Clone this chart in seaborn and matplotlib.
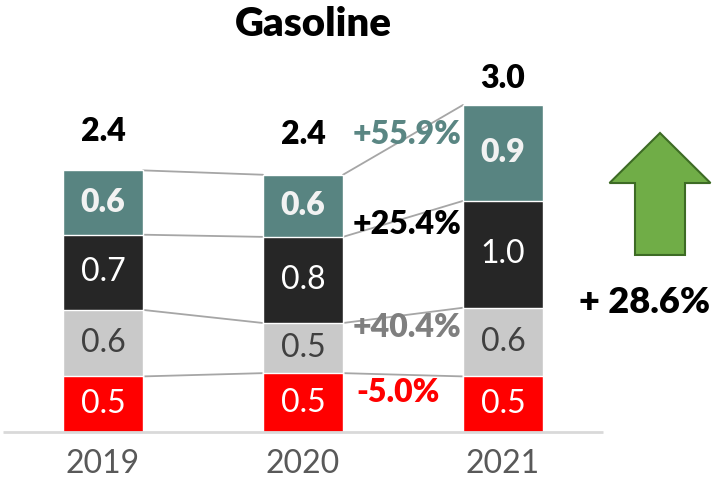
import numpy as np
import pandas as pd
import matplotlib.pyplot as plt
import matplotlib.patches as mpatches
import seaborn as sns

years = ['2019', '2020', '2021']
layers = ['red', 'gray', 'black', 'teal']  # bottom to top
red_vals = [0.51, 0.54, 0.51]
gray_vals = [0.61, 0.46, 0.63]
black_vals = [0.69, 0.79, 0.98]
teal_vals = [0.59, 0.57, 0.88]
change_labels = ['-5.0%', '+40.4%', '+25.4%', '+55.9%']
total_change = '+ 28.6%'

colors = {'red': '#FF0000', 'gray': '#C9C9C9', 'black': '#262626', 'teal': '#588481'}
label_colors = {'red': 'white', 'gray': '#404040', 'black': 'white', 'teal': '#F2F2F2'}
label_weights = {'red': 'normal', 'gray': 'normal', 'black': 'normal', 'teal': 'heavy'}
change_colors = {'red': '#FF0000', 'gray': '#7F7F7F', 'black': '#000000', 'teal': '#5A8683'}

sns.set_style('white')
plt.rcParams['font.family'] = ['Lato', 'DejaVu Sans']

df = pd.DataFrame({'year': years, 'red': red_vals, 'gray': gray_vals,
                   'black': black_vals, 'teal': teal_vals})
cum = df[layers].cumsum(axis=1)
bottoms = cum - df[layers]

fig = plt.figure(figsize=(7.18, 4.96), dpi=100)
ax = fig.add_axes([0, 0, 1, 1])

bw = 0.4
# draw cumulative heights from the top layer down so that each layer covers the rest
for layer in reversed(layers):
    sns.barplot(x=df['year'], y=cum[layer], color=colors[layer], width=bw,
                saturation=1, ax=ax, zorder=3)

# segment value labels
for k, layer in enumerate(layers):
    for i in range(len(years)):
        ax.text(i, bottoms[layer][i] + df[layer][i] / 2, f'{df[layer][i]:.1f}',
                ha='center', va='center', fontsize=23, color=label_colors[layer],
                fontweight=label_weights[layer], zorder=5)

# connector lines between bars
for layer in layers:
    for i in range(len(years) - 1):
        ax.plot([i + bw / 2, i + 1 - bw / 2], [cum[layer][i], cum[layer][i + 1]],
                color='#A6A6A6', lw=1.3, zorder=2)

# totals
total_offsets = [28, 29, 19]
for i in range(len(years)):
    ax.annotate(f'{cum["teal"][i]:.1f}', (i, cum['teal'][i]), xytext=(0, total_offsets[i]),
                textcoords='offset points', ha='center', va='center',
                fontsize=23, fontweight='heavy', color='black')

# change labels 2020 -> 2021
change_dy = {'red': -0.165, 'gray': -0.11, 'black': -0.05, 'teal': 0.05}
for layer, lab in zip(layers, change_labels):
    ymid = (cum[layer][1] + cum[layer][2]) / 2
    ax.text(1.52 if layer != 'red' else 1.475, ymid + change_dy[layer], lab,
            ha='center', va='center', fontsize=23, fontweight='heavy',
            color=change_colors[layer], zorder=6)

# baseline
ax.hlines(0, -0.5, len(years) - 0.5, color='#D9D9D9', lw=2, zorder=4)

# year labels
for i, y in enumerate(years):
    ax.text(i, -0.29, y, ha='center', va='center', fontsize=23, color='#595959')

# big arrow and total change
arrow = mpatches.FancyArrow(2.785, 1.624, 0, 1.119, width=0.25, head_width=0.505,
                            head_length=0.459, length_includes_head=True,
                            facecolor='#70AD47', edgecolor='#3D6B25', lw=1.5)
ax.add_patch(arrow)
ax.text(2.71, 1.19, total_change, ha='center', va='center', fontsize=26,
        fontweight='heavy', color='black')

fig.text(313 / 718, 1 - 25 / 496, 'Gasoline', ha='center', va='center',
         fontsize=29, fontweight='heavy', color='black')

ax.set_xlim(-0.515, 3.075)
ax.set_ylim(-0.587, 3.963)
ax.axis('off')

fig.savefig('out.png', dpi=100)
